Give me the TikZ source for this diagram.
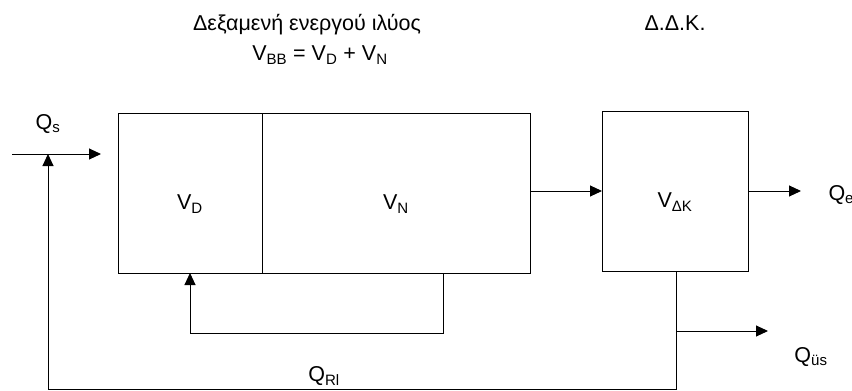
\documentclass[tikz,border=0pt]{standalone}
\usepackage{fontspec}
\setmainfont{Liberation Sans}
\usetikzlibrary{positioning,arrows.meta}

\begin{document}
\begin{tikzpicture}[
    x=1pt, y=-1pt,
    >={Triangle[length=12pt,width=11pt]}, line width=1pt,
    font=\fontsize{21.5}{26}\selectfont,
    bloc/.style={draw, line width=1pt, minimum height=160pt, inner sep=0pt, outer sep=0pt},
    sig/.style={inner sep=1pt},
  ]
  \useasboundingbox (0,0) rectangle (852,391);
  % --- Titres ---
  \node (titre) at (307,25) {Δεξαμενή ενεργού ιλύος};
  \node (vbb) at (320,55) {V\textsubscript{BB} = V\textsubscript{D} + V\textsubscript{N}};
  \node (ddk) at (675,23) {Δ.Δ.Κ.};
  % --- Bassins ---
  \node[bloc, minimum width=144pt] (vd) at (190,193) {};
  \node[bloc, minimum width=268pt, right=0pt of vd] (vn) {};
  \node[bloc, minimum width=146pt] (dk) at (675,191) {};
  \node[sig] (lvd) at ([yshift=-11pt]vd.center) {V\textsubscript{D}};
  \node[sig] (lvn) at ([yshift=-11pt]vn.center) {V\textsubscript{N}};
  \node[sig] (ldk) at ([yshift=-11pt]dk.center) {V\textsubscript{ΔK}};
  % --- Points de passage ---
  \coordinate (qin) at (12,154);
  \coordinate (qtip) at (101,154);
  \coordinate (qeend) at (801,191);
  \coordinate (rn) at (443,333);
  \coordinate (bas) at (676,389);
  \coordinate (rec) at (48,389);
  \coordinate (qus) at (768,331);

  % Entrée et sortie
  \draw[->] (qin) -- (qtip);
  \node[sig] (qs) at (48,124) {Q\textsubscript{s}};
  \draw[->] (vn.east |- dk.center) -- (dk.west);
  \draw[->] (dk.east) -- (qeend);
  \node[sig, anchor=west] (qe) at (827,195) {Q\textsubscript{e}};
  % Recirculation interne
  \draw[->] (vn.south -| rn) -- (rn) -| (vd.south);
  % Recirculation des boues et purge
  \draw[->] (dk.south -| bas) -- (bas) -- (rec) -- (rec |- qin);
  \draw[->] (qus -| bas) -- (qus);
  \node[sig] (qus-l) at (811,357) {Q\textsubscript{üs}};
  \node[sig] (qrl) at (324,376) {Q\textsubscript{Rl}};
\end{tikzpicture}
\end{document}
